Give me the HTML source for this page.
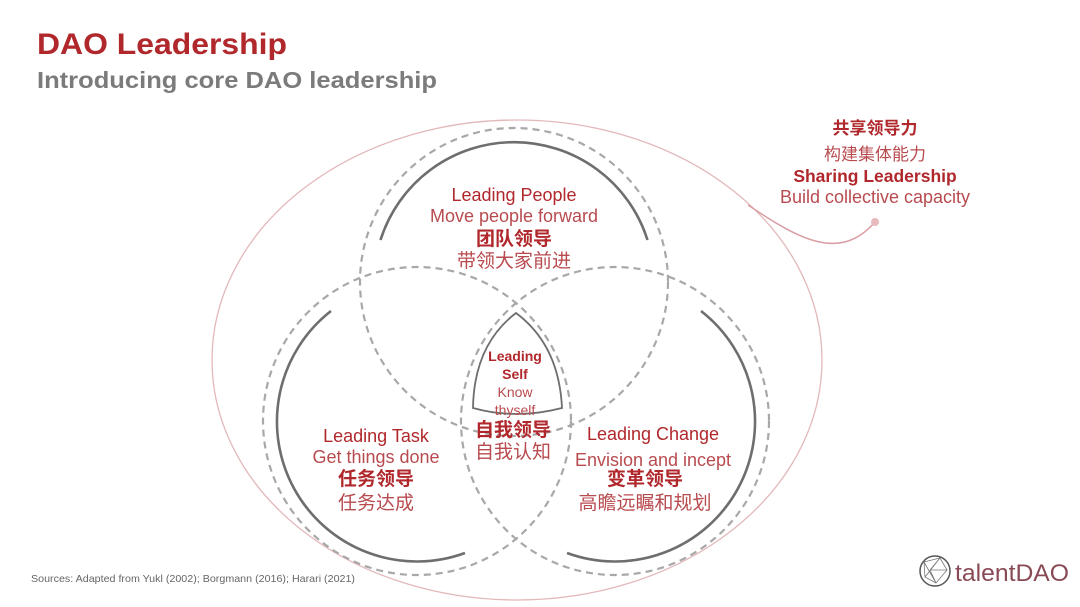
<!DOCTYPE html>
<html><head><meta charset="utf-8"><style>
body{margin:0;width:1080px;height:607px;background:#fff;overflow:hidden;font-family:"Liberation Sans","Noto Sans CJK SC",sans-serif;}
svg{position:absolute;left:0;top:0}
</style></head><body>
<svg width="1080" height="607" viewBox="0 0 1080 607" font-family="Liberation Sans, Noto Sans CJK SC, sans-serif">
<text x="37" y="54" font-size="30" font-weight="bold" fill="#b0282c" textLength="250" lengthAdjust="spacingAndGlyphs">DAO Leadership</text>
<text x="37" y="88" font-size="23" font-weight="bold" fill="#7b7b7b" textLength="400" lengthAdjust="spacingAndGlyphs">Introducing core DAO leadership</text>

<ellipse cx="517" cy="360" rx="305" ry="240" fill="none" stroke="#e3b8bb" stroke-width="1.3"/>
<path d="M748 205 C 800 240, 840 262, 875 222" fill="none" stroke="#d99ea3" stroke-width="1.5"/>
<circle cx="875" cy="222" r="4" fill="#e8b9bd"/>

<g fill="none" stroke="#a8a8a8" stroke-width="2.2" stroke-dasharray="7 5">
<circle cx="514" cy="282" r="154"/>
<circle cx="417" cy="421" r="154"/>
<circle cx="615" cy="421" r="154"/>
</g>
<g fill="none" stroke="#6e6e6e" stroke-width="2.6">
<path d="M380.5 240 A140 140 0 0 1 647.5 240"/>
<path d="M331 311 A140 140 0 0 0 465 553"/>
<path d="M701 311 A140 140 0 0 1 567 553"/>
<path d="M516 313 Q 474 345 473 408 Q 516 420 562 408 Q 559 345 516 313 Z" stroke-width="1.8" fill="#fff"/>
</g>

<g fill="#b0282c" text-anchor="middle">
<text x="514" y="201" font-size="18">Leading People</text>
<text x="514" y="222" font-size="18" fill="#b84b4f">Move people forward</text>
<text x="514" y="245" font-size="19" font-weight="bold">团队领导</text>
<text x="514" y="267" font-size="19" fill="#b84b4f">带领大家前进</text>

<text x="515" y="361" font-size="14" font-weight="bold">Leading</text>
<text x="515" y="379" font-size="14" font-weight="bold">Self</text>
<text x="515" y="397" font-size="14" fill="#b84b4f">Know</text>
<text x="515" y="415" font-size="14" fill="#b84b4f">thyself</text>
<text x="513" y="436" font-size="19" font-weight="bold">自我领导</text>
<text x="513" y="458" font-size="19" fill="#b84b4f">自我认知</text>

<text x="376" y="442" font-size="18">Leading Task</text>
<text x="376" y="463" font-size="18" fill="#b84b4f">Get things done</text>
<text x="376" y="485" font-size="19" font-weight="bold">任务领导</text>
<text x="376" y="509" font-size="19" fill="#b84b4f">任务达成</text>

<text x="653" y="440" font-size="18">Leading Change</text>
<text x="653" y="466" font-size="18" fill="#b84b4f">Envision and incept</text>
<text x="645" y="485" font-size="19" font-weight="bold">变革领导</text>
<text x="645" y="509" font-size="19" fill="#b84b4f">高瞻远瞩和规划</text>

<text x="875" y="134" font-size="17" font-weight="bold">共享领导力</text>
<text x="875" y="160" font-size="17" fill="#b84b4f">构建集体能力</text>
<text x="875" y="182" font-size="17.5" font-weight="bold">Sharing Leadership</text>
<text x="875" y="203" font-size="18" fill="#b84b4f">Build collective capacity</text>
</g>

<text x="31" y="582" font-size="10.5" fill="#666" textLength="324" lengthAdjust="spacingAndGlyphs">Sources: Adapted from Yukl (2002); Borgmann (2016); Harari (2021)</text>

<g>
<circle cx="935" cy="571" r="15" fill="none" stroke="#555" stroke-width="1.5"/>
<path d="M924 562 L940 558 L947 570 L936 583 L925 577 Z M924 562 L936 583 M940 558 L925 577 M930 570 L947 570 M930 570 L940 558 M930 570 L936 583" fill="none" stroke="#777" stroke-width="0.8"/>
<text x="955" y="581" font-size="24" fill="#8a4a55" textLength="114" lengthAdjust="spacingAndGlyphs">talentDAO</text>
</g>
</svg>
</body></html>
